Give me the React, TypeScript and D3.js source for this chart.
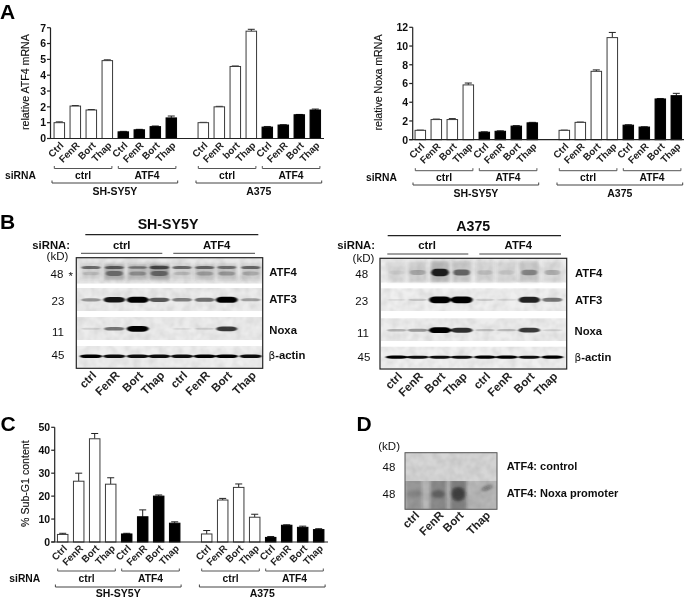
import React from "react";
import * as d3 from "d3";

const FONT = "'Liberation Sans', Arial, sans-serif";

const treatLabels = ["Ctrl", "FenR", "Bort", "Thap", "Ctrl", "FenR", "Bort", "Thap", "Ctrl", "FenR", "Bort", "Thap", "Ctrl", "FenR", "Bort", "Thap"];
const treatLabelsA1 = ["Ctrl", "FenR", "Bort", "Thap", "Ctrl", "FenR", "Bort", "Thap", "Ctrl", "FenR", "bort", "Thap", "Ctrl", "FenR", "Bort", "Thap"];
const slots = [0, 1, 2, 3, 4, 5, 6, 7, 9, 10, 11, 12, 13, 14, 15, 16];

const atf4Values = [1.0, 2.05, 1.8, 4.92, 0.42, 0.55, 0.75, 1.3, 1.0, 2.0, 4.55, 6.78, 0.72, 0.85, 1.5, 1.8];
const atf4Tops = [1.05, 2.08, 1.83, 4.97, 0.45, 0.58, 0.79, 1.42, 1.02, 2.03, 4.58, 6.9, 0.76, 0.87, 1.52, 1.86];
const noxaValues = [1.0, 2.15, 2.15, 5.85, 0.8, 0.9, 1.45, 1.8, 1.0, 1.85, 7.3, 10.9, 1.55, 1.35, 4.35, 4.7];
const noxaTops = [1.02, 2.2, 2.25, 6.05, 0.84, 0.95, 1.5, 1.85, 1.02, 1.88, 7.45, 11.45, 1.6, 1.38, 4.4, 4.95];
const subG1Values = [3.3, 26.5, 45, 25.2, 3.5, 11, 20, 8.2, 3.5, 18.3, 23.8, 10.8, 2, 7.3, 6.4, 5.4];
const subG1Tops = [3.8, 30, 47.3, 28, 3.8, 14, 20.5, 8.8, 5, 19, 25.3, 12.1, 2.4, 7.5, 6.9, 5.8];

const atf4Ticks = [0, 1, 2, 3, 4, 5, 6, 7];
const noxaTicks = [0, 2, 4, 6, 8, 10, 12];
const subG1Ticks = [0, 10, 20, 30, 40, 50];

// Blot intensities per lane
const shAtf4Upper = [0.5, 0.5, 0.4, 0.6, 0.5, 0.5, 0.45, 0.5];
const shAtf4Mid = [0.12, 0.4, 0.26, 0.42, 0.14, 0.22, 0.25, 0.18];
const shAtf4Smear = [0.12, 0.3, 0.26, 0.36, 0.12, 0.2, 0.18, 0.15];
const shAtf3 = [0.36, 0.9, 1, 0.62, 0.45, 0.52, 0.98, 0.32];
const shNoxa = [0.12, 0.5, 1, 0, 0.08, 0.12, 0.75, 0];
const shActin = [1, 0.95, 0.95, 0.95, 0.95, 1, 1, 0.95];
const a3Atf4Smear = [0.1, 0.14, 0.28, 0.2, 0.12, 0.12, 0.2, 0.1];
const a3Atf4 = [0.06, 0.2, 0.85, 0.5, 0.12, 0.08, 0.34, 0.2];
const a3Atf3 = [0.08, 0.16, 1, 1, 0.14, 0.1, 0.85, 0.5];
const a3Noxa = [0.25, 0.36, 1, 0.8, 0.18, 0.2, 0.75, 0.12];
const a3Actin = [1, 0.95, 0.95, 0.95, 1, 1, 0.95, 1];
const chipSmear = [0.22, 0.3, 0.38, 0.0];
const chipCore = [0.14, 0.32, 0.55, 0.0];
const chipThapSmear = [0.42];

const shLanes = [91, 114.3, 137.7, 159.3, 182, 204.7, 226.7, 250.7];
const a3Lanes = [396.7, 417.7, 440, 461.7, 485, 506.7, 529.3, 552.3];
const chipLanes = [414, 438.3, 458.3, 485];
const blotLaneLabels = ["ctrl", "FenR", "Bort", "Thap", "ctrl", "FenR", "Bort", "Thap"];
const chipLaneLabels = ["ctrl", "FenR", "Bort", "Thap"];

type PanelProps = {
  axisX: number; axisEnd: number; y0: number; yTop: number; c0: number; step: number; barW: number;
  yMax: number; ticks: number[]; values: number[]; tops: number[]; labels: string[]; yLabel: string; yLabelX: number;
  tickLabelY: number; innerY: number; outerY: number; rowBase: number; cellBase: number; siX: number;
};

function BarPanel(p: PanelProps) {
  const x = d3.scaleLinear().domain([0, 16]).range([p.c0, p.c0 + 16 * p.step]);
  const y = d3.scaleLinear().domain([0, p.yMax]).range([p.y0, p.yTop]);
  const S = "#3a3a3a";
  const inner = [[0, 3, "ctrl"], [4, 7, "ATF4"], [9, 12, "ctrl"], [13, 16, "ATF4"]] as [number, number, string][];
  const outer = [[0, 7, "SH-SY5Y"], [9, 16, "A375"]] as [number, number, string][];
  return (
    <g fontFamily={FONT} fill="#111">
      {p.values.map((v, i) => {
        const cx = x(slots[i]);
        const filled = i % 8 >= 4;
        const t = y(p.tops[i]);
        return (
          <g key={i}>
            <line x1={cx} x2={cx} y1={y(v)} y2={t} stroke="#222" strokeWidth={1} />
            <line x1={cx - 3.5} x2={cx + 3.5} y1={t} y2={t} stroke="#222" strokeWidth={1} />
            <rect x={cx - p.barW / 2} width={p.barW} y={y(v)} height={p.y0 - y(v)} fill={filled ? "#000" : "#fff"} stroke={filled ? "#000" : S} strokeWidth={1} />
            <text transform={`translate(${cx + 5},${p.tickLabelY}) rotate(-45)`} textAnchor="end" fontSize={9.8} fontWeight={700} fill="#222">{p.labels[i]}</text>
          </g>
        );
      })}
      <line x1={p.axisX} x2={p.axisX} y1={p.yTop} y2={p.y0} stroke="#222" strokeWidth={1.2} />
      <line x1={p.axisX - 3.5} x2={p.axisEnd} y1={p.y0} y2={p.y0} stroke="#222" strokeWidth={1.2} />
      {p.ticks.map((t) => (
        <g key={t}>
          <line x1={p.axisX - 3.5} x2={p.axisX} y1={y(t)} y2={y(t)} stroke="#222" strokeWidth={1.2} />
          <text x={p.axisX - 4.5} y={y(t) + 3.8} textAnchor="end" fontSize={10.5} fontWeight={700}>{t}</text>
        </g>
      ))}
      <text transform={`translate(${p.yLabelX},${(p.y0 + p.yTop) / 2 - 1}) rotate(-90)`} textAnchor="middle" fontSize={10.6} stroke="#111" strokeWidth={0.15}>{p.yLabel}</text>
      {inner.map(([a, b, s], i) => {
        const x1 = x(a) - 5, x2 = x(b) + 4.6;
        return (
          <g key={i}>
            <path d={`M${x1},${p.innerY - 2.5}V${p.innerY}H${x2}V${p.innerY - 2.5}`} fill="none" stroke="#555" strokeWidth={1} />
            <text x={(x1 + x2) / 2} y={p.rowBase} textAnchor="middle" fontSize={10.3} fontWeight={700}>{s}</text>
          </g>
        );
      })}
      {outer.map(([a, b, s], i) => {
        const x1 = x(a) - 7.3, x2 = x(b) + 6.4;
        return (
          <g key={i}>
            <path d={`M${x1},${p.outerY - 2.5}V${p.outerY}H${x2}V${p.outerY - 2.5}`} fill="none" stroke="#444" strokeWidth={1} />
            <text x={(x1 + x2) / 2} y={p.cellBase} textAnchor="middle" fontSize={10.5} fontWeight={700}>{s}</text>
          </g>
        );
      })}
      <text x={p.siX} y={p.rowBase} fontSize={10.3} fontWeight={700}>siRNA</text>
    </g>
  );
}

function Bands({ lanes, vals, cy, w, minRy = 0.6, maxRy = 3.2 }: { lanes: number[]; vals: number[]; cy: number; w: number; minRy?: number; maxRy?: number }) {
  const ry = d3.scaleLinear().domain([0, 1]).range([minRy, maxRy]);
  const rw = d3.scaleLinear().domain([0, 1]).range([w * 0.82, w]);
  return (
    <g filter="url(#bandBlur)">
      {vals.map((v, i) => (
        <rect key={i} x={lanes[i] - rw(v)} width={2 * rw(v)} y={cy - ry(v)} height={2 * ry(v)} rx={rw(v) * 0.55} ry={ry(v)} fill="#000" opacity={v} />
      ))}
    </g>
  );
}

function Smears({ lanes, vals, y0, y1, w }: { lanes: number[]; vals: number[]; y0: number; y1: number; w: number }) {
  return (
    <g filter="url(#smearBlur)">
      {vals.map((v, i) => (
        <rect key={i} x={lanes[i] - w} width={2 * w} y={y0} height={y1 - y0} fill="#333" opacity={v} />
      ))}
    </g>
  );
}

function Strip({ x, y, w, h, fill = "#ececec" }: { x: number; y: number; w: number; h: number; fill?: string }) {
  return <rect x={x} y={y} width={w} height={h} fill={fill} filter="url(#grain)" />;
}

function LaneLabels({ lanes, labels, y, size = 11.5 }: { lanes: number[]; labels: string[]; y: number; size?: number }) {
  return (
    <g>
      {labels.map((s, i) => (
        <text key={i} transform={`translate(${lanes[i] + 6},${y}) rotate(-45)`} textAnchor="end" fontSize={size} fontWeight={700} fill="#222">{s}</text>
      ))}
    </g>
  );
}

function Actin() {
  return (
    <>
      <tspan fontFamily="'DejaVu Sans', sans-serif" fontWeight={400} fontSize={10.5}>β</tspan>
      <tspan>-actin</tspan>
    </>
  );
}

export default function App() {
  return (
    <svg width={685} height={599} viewBox="0 0 685 599" style={{ position: "absolute", left: 0, top: 0, background: "#fff" }} fontFamily={FONT}>
      <defs>
        <filter id="bandBlur" x="-30%" y="-150%" width="160%" height="400%">
          <feGaussianBlur stdDeviation="0.9 0.6" />
        </filter>
        <filter id="smearBlur" x="-30%" y="-30%" width="160%" height="160%">
          <feGaussianBlur stdDeviation="1.5" />
        </filter>
        <filter id="chipBlur" x="-50%" y="-50%" width="200%" height="200%">
          <feGaussianBlur stdDeviation="1.6" />
        </filter>
        <filter id="soft" x="0" y="0" width="100%" height="100%">
          <feGaussianBlur stdDeviation="0.3" />
        </filter>
        <filter id="grain" x="0" y="0" width="100%" height="100%">
          <feTurbulence type="fractalNoise" baseFrequency="0.12" numOctaves={2} seed={4} result="n" />
          <feColorMatrix in="n" type="matrix" values="0 0 0 0 0  0 0 0 0 0  0 0 0 0 0  0 0 0 0.3 -0.09" result="d" />
          <feComposite in="d" in2="SourceGraphic" operator="in" result="c" />
          <feMerge>
            <feMergeNode in="SourceGraphic" />
            <feMergeNode in="c" />
          </feMerge>
        </filter>
      </defs>
      <g filter="url(#soft)">
        <g fontWeight={700} fontSize={21} fill="#000">
          <text x={0} y={19}>A</text>
          <text x={0} y={228.5}>B</text>
          <text x={0.5} y={430.5}>C</text>
          <text x={356.5} y={431}>D</text>
        </g>

        <BarPanel axisX={50.5} axisEnd={324} y0={138.5} yTop={27.7} c0={59.3} step={16} barW={10.5} yMax={7} ticks={atf4Ticks}
          values={atf4Values} tops={atf4Tops} labels={treatLabelsA1} yLabel="relative ATF4 mRNA" yLabelX={29}
          tickLabelY={146} innerY={168.5} outerY={183} rowBase={179} cellBase={195} siX={5} />
        <BarPanel axisX={412.7} axisEnd={684} y0={139.7} yTop={27.3} c0={420.3} step={16} barW={10.5} yMax={12} ticks={noxaTicks}
          values={noxaValues} tops={noxaTops} labels={treatLabels} yLabel="relative Noxa mRNA" yLabelX={382}
          tickLabelY={147} innerY={170.7} outerY={185} rowBase={180.7} cellBase={196.7} siX={366} />
        <BarPanel axisX={54.7} axisEnd={328} y0={542} yTop={427.3} c0={62.7} step={16} barW={10.5} yMax={50} ticks={subG1Ticks}
          values={subG1Values} tops={subG1Tops} labels={treatLabels} yLabel="% Sub-G1 content" yLabelX={29}
          tickLabelY={549} innerY={571} outerY={587} rowBase={581.7} cellBase={597.3} siX={9.3} />

        {/* B left */}
        <g fill="#111">
          <text x={168} y={229.3} textAnchor="middle" fontSize={14.2} fontWeight={700}>SH-SY5Y</text>
          <line x1={85.3} x2={258.3} y1={234.7} y2={234.7} stroke="#222" strokeWidth={1.2} />
          <text x={70} y={249} textAnchor="end" fontSize={11.3} fontWeight={700}>siRNA:</text>
          <text x={121.7} y={249} textAnchor="middle" fontSize={11.3} fontWeight={700}>ctrl</text>
          <text x={216.7} y={249} textAnchor="middle" fontSize={11.3} fontWeight={700}>ATF4</text>
          <line x1={81} x2={162.3} y1={253.3} y2={253.3} stroke="#444" strokeWidth={1} />
          <line x1={173.3} x2={255} y1={253.3} y2={253.3} stroke="#444" strokeWidth={1} />
          <text x={68.3} y={260} textAnchor="end" fontSize={11.5}>(kD)</text>
          <text x={57} y={277.7} textAnchor="middle" fontSize={11.5}>48</text>
          <text x={70.7} y={280} textAnchor="middle" fontSize={11.5}>*</text>
          <text x={58} y={305} textAnchor="middle" fontSize={11.5}>23</text>
          <text x={58} y={335.7} textAnchor="middle" fontSize={11.5}>11</text>
          <text x={58} y={359.3} textAnchor="middle" fontSize={11.5}>45</text>
          <g fontSize={11.3} fontWeight={700}>
            <text x={269.3} y={275.7}>ATF4</text>
            <text x={269.3} y={303.3}>ATF3</text>
            <text x={269.3} y={334}>Noxa</text>
            <text x={268.5} y={359.3}><Actin /></text>
          </g>
        </g>
        <Strip x={77} y={258} w={185} h={25.5} fill="#eaeaea" />
        <Strip x={77} y={288} w={185} h={23} fill="#ececec" />
        <Strip x={77} y={317} w={185} h={23} fill="#ececec" />
        <Strip x={77} y={346} w={185} h={21.5} fill="#efefef" />
        <Smears lanes={shLanes} vals={shAtf4Smear} y0={264} y1={280} w={10} />
        <Bands lanes={shLanes} vals={shAtf4Upper} cy={267.5} w={10.5} minRy={0.8} maxRy={2.2} />
        <Bands lanes={shLanes} vals={shAtf4Mid} cy={273.5} w={9.5} minRy={1.5} maxRy={3.8} />
        <Bands lanes={shLanes} vals={shAtf3} cy={299.8} w={11} minRy={0.8} maxRy={3} />
        <Bands lanes={shLanes} vals={shNoxa} cy={328.8} w={11} minRy={0.7} maxRy={2.9} />
        <Bands lanes={shLanes} vals={shActin} cy={356.2} w={11.2} minRy={1} maxRy={1.8} />
        <rect x={76.3} y={257.7} width={186.4} height={110.6} fill="none" stroke="#222" strokeWidth={1.2} />
        <LaneLabels lanes={shLanes} labels={blotLaneLabels} y={376} />

        {/* B right */}
        <g fill="#111">
          <text x={473.3} y={231} textAnchor="middle" fontSize={14.2} fontWeight={700}>A375</text>
          <line x1={387.7} x2={561} y1={235.7} y2={235.7} stroke="#222" strokeWidth={1.2} />
          <text x={375} y={249} textAnchor="end" fontSize={11.3} fontWeight={700}>siRNA:</text>
          <text x={427} y={249} textAnchor="middle" fontSize={11.3} fontWeight={700}>ctrl</text>
          <text x={518.3} y={249} textAnchor="middle" fontSize={11.3} fontWeight={700}>ATF4</text>
          <line x1={387.3} x2={468.3} y1={254} y2={254} stroke="#444" strokeWidth={1} />
          <line x1={479.3} x2={561} y1={254} y2={254} stroke="#444" strokeWidth={1} />
          <text x={374.3} y={261.7} textAnchor="end" fontSize={11.5}>(kD)</text>
          <text x={361.7} y={278.3} textAnchor="middle" fontSize={11.5}>48</text>
          <text x={361.7} y={305} textAnchor="middle" fontSize={11.5}>23</text>
          <text x={363} y={336.7} textAnchor="middle" fontSize={11.5}>11</text>
          <text x={364} y={360.7} textAnchor="middle" fontSize={11.5}>45</text>
          <g fontSize={11.3} fontWeight={700}>
            <text x={575} y={276.7}>ATF4</text>
            <text x={575} y={304}>ATF3</text>
            <text x={574.5} y={335}>Noxa</text>
            <text x={574.5} y={360.7}><Actin /></text>
          </g>
        </g>
        <Strip x={381} y={258.5} w={185} h={24} fill="#eeeeee" />
        <Strip x={381} y={288.3} w={185} h={22.7} fill="#efefef" />
        <Strip x={381} y={318.3} w={185} h={22.7} fill="#ededed" />
        <Strip x={381} y={346.7} w={185} h={21.5} fill="#f0f0f0" />
        <Smears lanes={a3Lanes} vals={a3Atf4Smear} y0={261} y1={282} w={9.5} />
        <Bands lanes={a3Lanes} vals={a3Atf4} cy={272.5} w={9} minRy={2} maxRy={4} />
        <Bands lanes={a3Lanes} vals={a3Atf3} cy={299.8} w={11} minRy={0.7} maxRy={3.4} />
        <Bands lanes={a3Lanes} vals={a3Noxa} cy={330.2} w={11.2} minRy={0.7} maxRy={2.9} />
        <Bands lanes={a3Lanes} vals={a3Actin} cy={357.2} w={11} minRy={1} maxRy={1.6} />
        <rect x={380} y={258.3} width={186.7} height={110.7} fill="none" stroke="#222" strokeWidth={1.2} />
        <LaneLabels lanes={a3Lanes} labels={blotLaneLabels} y={377} />

        {/* D */}
        <g fill="#111">
          <text x={400} y={450} textAnchor="end" fontSize={11.5}>(kD)</text>
          <text x={389} y={471} textAnchor="middle" fontSize={11.5}>48</text>
          <text x={389} y={497.7} textAnchor="middle" fontSize={11.5}>48</text>
          <text x={506.7} y={470} fontSize={11} fontWeight={700}>ATF4: control</text>
          <text x={506.7} y={497.3} fontSize={11} fontWeight={700}>ATF4: Noxa promoter</text>
        </g>
        <Strip x={405} y={452.7} w={92} h={28.3} fill="#d6d6d6" />
        <Strip x={405} y={481} w={92} h={28.3} fill="#b8b8b8" />
        <clipPath id="chipClip"><rect x={405} y={481} width={92} height={28.3} /></clipPath>
        <g clipPath="url(#chipClip)">
          <g filter="url(#chipBlur)">
            {chipSmear.map((v, i) => (
              <rect key={i} x={chipLanes[i] - 8} width={16} y={479} height={32} fill="#222" opacity={v} />
            ))}
            {chipCore.map((v, i) => (
              <ellipse key={i} cx={chipLanes[i]} cy={494} rx={7} ry={i === 2 ? 7 : 4} fill="#111" opacity={v} />
            ))}
            {chipThapSmear.map((v, i) => (
              <ellipse key={i} cx={chipLanes[3] + 2} cy={488} rx={6} ry={2} transform={`rotate(-20 ${chipLanes[3] + 2} 488)`} fill="#111" opacity={v} />
            ))}
          </g>
        </g>
        <rect x={405} y={452.7} width={92} height={56.6} fill="none" stroke="#555" strokeWidth={1} />
        <LaneLabels lanes={chipLanes} labels={chipLaneLabels} y={516} />
      </g>
    </svg>
  );
}
